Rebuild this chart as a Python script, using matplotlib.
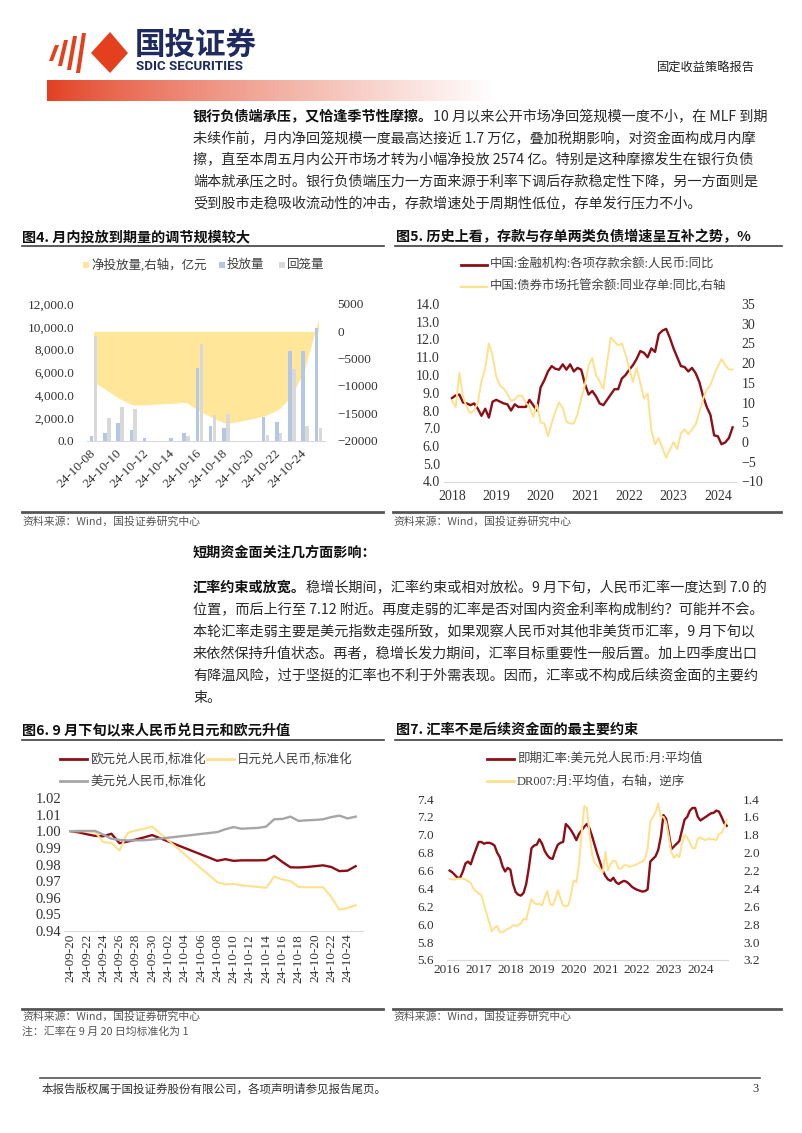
import numpy as np
import pandas as pd
import matplotlib
matplotlib.use("Agg")
import matplotlib.pyplot as plt
import matplotlib.dates as mdates
from matplotlib.lines import Line2D
from matplotlib.patches import Polygon, Rectangle

CJK = ["Noto Sans CJK SC", "DejaVu Sans"]
SERIF = ["Liberation Serif", "Noto Sans CJK SC", "DejaVu Sans"]
plt.rcParams["font.family"] = SERIF

RED = "#8B0F16"
YEL = "#FFE08C"
GRAY = "#A6A6A6"
BLUE = "#B4C7E7"
LGRAY = "#D9D9D9"
AREA = "#FFE699"

# ---- data: chart 4 (OMO, 100m yuan)
dates4 = ["24-10-08", "24-10-09", "24-10-10", "24-10-11", "24-10-12", "24-10-13",
          "24-10-14", "24-10-15", "24-10-16", "24-10-17", "24-10-18", "24-10-19",
          "24-10-20", "24-10-21", "24-10-22", "24-10-23", "24-10-24", "24-10-25"]
inject4 = [415, 620, 1510, 950, 200, 0, 200, 680, 6370, 1270, 1070, 0, 0, 2070, 1600, 7910, 7910, 9870]
withdraw4 = [9190, 1990, 2930, 2760, 0, 0, 0, 415, 8500, 2220, 2370, 0, 0, 440, 680, 6280, 1270, 1100]
net4 = [-9250, -10800, -12400, -13500, -13450, -13300, -13200, -13000, -14600, -15850,
        -16900, -16500, -16000, -15400, -14300, -11800, -6700, 2300]

# ---- data: chart 5 (monthly from 2018-01)
deposit5 = [8.70, 8.85, 8.90, 8.45, 8.40, 8.30, 8.40, 8.10, 7.70, 8.10,
            7.60, 8.50, 8.60, 8.50, 8.40, 8.35, 8.00, 8.35, 8.20, 8.20,
            8.20, 8.60, 8.30, 8.00, 9.30, 9.70, 10.20, 10.50, 10.35, 10.30,
            10.60, 10.30, 10.60, 10.20, 10.40, 10.30, 9.50, 8.90, 9.10, 8.80,
            8.40, 8.30, 8.60, 8.90, 9.20, 9.20, 9.80, 10.00, 10.30, 10.55,
            10.90, 11.35, 11.25, 11.00, 11.50, 11.30, 12.30, 12.50, 12.60, 12.10,
            11.50, 11.00, 10.50, 10.45, 10.20, 10.40, 10.10, 9.60, 8.80, 8.20,
            7.75, 6.60, 6.55, 6.10, 6.20, 6.45, 7.05]
ncd5 = [10.5, 8.8, 17.5, 11.5, 8.8, 7.3, 8.1, 10.0, 15.5, 18.6,
        25.0, 21.8, 16.6, 14.3, 13.6, 12.2, 10.4, 10.8, 11.8, 11.7,
        9.9, 9.0, 6.4, 9.5, 5.0, 4.7, 1.5, 4.8, 7.7, 10.1,
        8.6, 5.2, 4.7, 4.7, 7.0, 11.0, 14.5, 19.5, 21.3, 17.0,
        15.4, 13.5, 20.0, 26.5, 25.5, 24.5, 25.0, 22.3, 18.7, 15.3,
        18.8, 15.0, 11.0, 12.3, 3.0, -0.6, 1.0, -1.5, -4.0, -1.9,
        0.0, -1.8, 2.2, 3.2, 2.0, 3.2, 4.5, 7.5, 11.0, 13.2,
        14.5, 17.0, 19.2, 21.0, 19.5, 18.4, 18.4]

# ---- data: chart 6 (normalised FX)
dates6 = ["09-20", "09-21", "09-22", "09-23", "09-24", "09-25", "09-26", "09-27", "09-28", "09-29", "09-30",
          "10-08", "10-09", "10-10", "10-11", "10-12", "10-13", "10-14", "10-15", "10-16", "10-17",
          "10-18", "10-19", "10-20", "10-21", "10-22", "10-23", "10-24", "10-25"]
eur6 = [1.0000, 0.9993, 0.9982, 0.9972, 0.9970, 0.9985, 0.9928, 0.9938, 0.9950, 0.9963, 0.9977,
        0.9822, 0.9832, 0.9822, 0.9825, 0.9825, 0.9825, 0.9826, 0.9852, 0.9815, 0.9783,
        0.9782, 0.9785, 0.9790, 0.9795, 0.9785, 0.9760, 0.9763, 0.9790]
jpy6 = [1.0000, 1.0000, 1.0000, 0.9995, 0.9935, 0.9930, 0.9885, 0.9990, 1.0005, 1.0015, 1.0028,
        0.9694, 0.9680, 0.9684, 0.9675, 0.9670, 0.9665, 0.9660, 0.9728, 0.9710, 0.9700,
        0.9665, 0.9663, 0.9663, 0.9663, 0.9605, 0.9528, 0.9538, 0.9555]
usd6 = [1.0000, 1.0002, 1.0002, 1.0002, 0.9980, 0.9955, 0.9948, 0.9945, 0.9945, 0.9946, 0.9950,
        0.9995, 1.0012, 1.0025, 1.0015, 1.0018, 1.0020, 1.0028, 1.0072, 1.0074, 1.0088,
        1.0062, 1.0066, 1.0068, 1.0072, 1.0085, 1.0094, 1.0077, 1.0088]

# ---- data: chart 7 (monthly from 2016-02)
usdcny7 = [6.60, 6.58, 6.55, 6.52, 6.52, 6.59, 6.68, 6.70, 6.67, 6.76,
           6.84, 6.92, 6.92, 6.90, 6.91, 6.91, 6.90, 6.88, 6.80, 6.75,
           6.65, 6.59, 6.63, 6.61, 6.45, 6.36, 6.33, 6.32, 6.35, 6.45,
           6.63, 6.85, 6.88, 6.89, 6.95, 6.90, 6.82, 6.77, 6.74, 6.73,
           6.82, 6.89, 6.91, 6.92, 7.12, 7.09, 7.05, 7.00, 6.94, 7.01,
           7.05, 7.09, 7.12, 7.07, 6.98, 6.88, 6.78, 6.69, 6.60, 6.54,
           6.50, 6.485, 6.52, 6.47, 6.45, 6.47, 6.485, 6.475, 6.45, 6.42,
           6.40, 6.385, 6.375, 6.365, 6.37, 6.39, 6.70, 6.73, 6.76, 6.83,
           6.98, 7.22, 7.18, 7.02, 6.84, 6.87, 6.90, 6.93, 7.05, 7.17,
           7.20, 7.27, 7.30, 7.30, 7.20, 7.16, 7.18, 7.20, 7.22, 7.24,
           7.245, 7.27, 7.26, 7.20, 7.13, 7.10]
dr007_7 = [2.29, 2.30, 2.30, 2.29, 2.29, 2.29, 2.30, 2.32, 2.34, 2.40,
           2.43, 2.46, 2.47, 2.58, 2.68, 2.78, 2.88, 2.84, 2.82, 2.89,
           2.89, 2.87, 2.85, 2.84, 2.81, 2.82, 2.81, 2.79, 2.74, 2.75,
           2.63, 2.52, 2.56, 2.58, 2.57, 2.59, 2.50, 2.43, 2.57, 2.59,
           2.52, 2.42, 2.51, 2.59, 2.60, 2.59, 2.46, 2.31, 2.33, 2.13,
           1.78, 1.48, 1.50, 1.80, 2.03, 2.12, 2.15, 2.18, 2.22, 1.99,
           2.20, 2.12, 2.09, 2.10, 2.18, 2.18, 2.14, 2.14, 2.16, 2.15,
           2.14, 2.13, 2.11, 2.10, 2.07, 1.95, 1.65, 1.60, 1.55, 1.45,
           1.60, 1.60, 1.66, 1.82, 2.00, 2.06, 2.02, 2.05, 1.90, 1.80,
           1.83, 1.89, 1.95, 1.95, 1.84, 1.83, 1.85, 1.86, 1.84, 1.85,
           1.85, 1.86, 1.79, 1.78, 1.72, 1.63]

para1 = [("银行负债端承压，又恰逢季节性摩擦。", "10 月以来公开市场净回笼规模一度不小，在 MLF 到期"),
         ("", "未续作前，月内净回笼规模一度最高达接近 1.7 万亿，叠加税期影响，对资金面构成月内摩"),
         ("", "擦，直至本周五月内公开市场才转为小幅净投放 2574 亿。特别是这种摩擦发生在银行负债"),
         ("", "端本就承压之时。银行负债端压力一方面来源于利率下调后存款稳定性下降，另一方面则是"),
         ("", "受到股市走稳吸收流动性的冲击，存款增速处于周期性低位，存单发行压力不小。")]
para2 = [("汇率约束或放宽。", "稳增长期间，汇率约束或相对放松。9 月下旬，人民币汇率一度达到 7.0 的"),
         ("", "位置，而后上行至 7.12 附近。再度走弱的汇率是否对国内资金利率构成制约？可能并不会。"),
         ("", "本轮汇率走弱主要是美元指数走强所致，如果观察人民币对其他非美货币汇率，9 月下旬以"),
         ("", "来依然保持升值状态。再者，稳增长发力期间，汇率目标重要性一般后置。加上四季度出口"),
         ("", "有降温风险，过于坚挺的汇率也不利于外需表现。因而，汇率或不构成后续资金面的主要约"),
         ("", "束。")]

W, H = 802, 1133
fig = plt.figure(figsize=(W / 100, H / 100), dpi=100)
renderer = fig.canvas.get_renderer()


def fx(x):
    return x / W


def fy(y):
    return 1 - y / H


def text(x, y, s, size=10, **kw):
    kw.setdefault("va", "center")
    return fig.text(fx(x), fy(y), s, fontsize=size, **kw)


def rule(x0, x1, y, lw=1.0, color="#404040"):
    fig.add_artist(Line2D([fx(x0), fx(x1)], [fy(y), fy(y)], lw=lw, color=color))


def panel(l, t, r, b):
    return fig.add_axes([fx(l), fy(b), (r - l) / W, (b - t) / H])


def clean(ax, bottom=True):
    for s in ["top", "left", "right", "bottom"]:
        ax.spines[s].set_visible(False)
    if bottom:
        ax.spines["bottom"].set_visible(True)
        ax.spines["bottom"].set_color(LGRAY)
    ax.tick_params(length=0, colors="#333333")


def para_line(x, y, bold, rest, size=10.2):
    if bold:
        t = text(x, y, bold, size, family=CJK, fontweight="bold", color="#111111")
        x = t.get_window_extent(renderer).x1
    text(x, y, rest, size, family=CJK, color="#2a2a2a")


# ---- header
for k, (xc, hh) in enumerate([(54, 8), (63, 13), (72, 17), (81, 20)]):
    fig.add_artist(Polygon([(fx(xc - 5), fy(53 + hh)), (fx(xc - 1), fy(53 + hh)),
                            (fx(xc + 5), fy(53 - hh)), (fx(xc + 1), fy(53 - hh))],
                           closed=True, color="#E4401E", lw=0))
fig.add_artist(Polygon([(fx(110), fy(32)), (fx(128), fy(53)), (fx(110), fy(73)), (fx(91), fy(53))],
                       closed=True, color="#E4401E", lw=0))
text(135, 45, "国投证券", 22, family=CJK, fontweight="bold", color="#1F2A5E")
text(136, 67, "SDIC SECURITIES", 9.6, family=["Roboto", "DejaVu Sans"], fontweight="bold", color="#1F2A5E")
text(657, 68, "固定收益策略报告", 8.8, family=CJK, color="#222222")

gax = fig.add_axes([fx(47), fy(101), (495 - 47) / W, 21 / H])
t = np.linspace(0, 1, 400) ** 0.8
red = np.array([0.89, 0.24, 0.12])
grad = red[None, :] * (1 - t[:, None]) + t[:, None]
gax.imshow(grad[None, :, :], aspect="auto", extent=(0, 1, 0, 1))
gax.axis("off")

# ---- paragraph 1
for i, (b, r) in enumerate(para1):
    para_line(193, 117 + 21.8 * i, b, r)

# ---- chart titles
for x, y, s in [(22, 237, "图4. 月内投放到期量的调节规模较大"),
                (396, 237, "图5. 历史上看，存款与存单两类负债增速呈互补之势，%"),
                (22, 730, "图6. 9 月下旬以来人民币兑日元和欧元升值"),
                (396, 730, "图7. 汇率不是后续资金面的最主要约束")]:
    text(x, y, s, 10.2, family=CJK, fontweight="bold", color="#111111")
rule(22, 384, 246, 1.2)
rule(395, 782, 246, 1.2)
rule(22, 384, 740, 1.2)
rule(395, 782, 740, 1.2)

# ---- chart 4
ax4 = panel(87, 304, 325, 440.5)
x4 = np.arange(len(dates4))
ax4.fill_between(x4, 0, net4, color=AREA, lw=0)
ax4.set_ylim(-20000, 5000)
ax4.set_xlim(-0.5, len(dates4) - 0.5)
ax4b = ax4.twinx()
ax4b.bar(x4 - 0.15, inject4, width=0.27, color=BLUE)
ax4b.bar(x4 + 0.15, withdraw4, width=0.27, color=LGRAY)
ax4b.set_ylim(0, 12000)
ax4.yaxis.tick_right()
ax4b.yaxis.tick_left()
ax4.set_yticks(range(-20000, 5001, 5000))
ax4b.set_yticks(range(0, 12001, 2000))
ax4b.set_yticklabels([f"{v:,.1f}" for v in range(0, 12001, 2000)])
ax4.set_xticks(x4[::2])
ax4.set_xticklabels(dates4[::2], rotation=45, ha="right", va="center", rotation_mode="anchor")
clean(ax4)
clean(ax4b, bottom=False)
ax4.tick_params(axis="y", labelsize=9.5, pad=9)
ax4b.tick_params(axis="y", labelsize=9.5, pad=9)
ax4.tick_params(axis="x", labelsize=9.5, pad=8)

for xs, col, lab in [(86, AREA, "净投放量,右轴，亿元"), (222, BLUE, "投放量"), (282, LGRAY, "回笼量")]:
    fig.add_artist(Rectangle((fx(xs - 3), fy(268)), 6 / W, 6 / H, color=col, lw=0))
    text(xs + 5, 265, lab, 9, color="#404040")

# ---- chart 5
ax5 = panel(444, 304, 736, 481.5)
x5 = 2018 + np.arange(len(deposit5)) / 12
ax5.plot(x5, deposit5, color=RED, lw=1.7)
ax5.set_ylim(4, 14)
ax5.set_yticks(np.arange(4, 14.01, 1))
ax5.set_yticklabels([f"{v:.1f}" for v in np.arange(4, 14.01, 1)])
ax5.set_xlim(2017.82, 2024.41)
ax5.set_xticks(range(2018, 2025))
ax5b = ax5.twinx()
ax5b.plot(x5, ncd5, color=YEL, lw=1.4)
ax5b.set_ylim(-10, 35)
ax5b.set_yticks(range(-10, 36, 5))
clean(ax5)
clean(ax5b, bottom=False)
ax5.tick_params(axis="y", labelsize=10, pad=3)
ax5b.tick_params(axis="y", labelsize=10, pad=4)
ax5.tick_params(axis="x", labelsize=10, pad=6)

rule(461, 487, 265, 2, RED)
text(490, 265, "中国:金融机构:各项存款余额:人民币:同比", 8.9, color="#404040")
rule(461, 487, 286.5, 1.6, YEL)
text(490, 286.5, "中国:债券市场托管余额:同业存单:同比,右轴", 8.9, color="#404040")

# ---- sources row 1
rule(22, 383, 512, 2, "#555555")
rule(393, 781, 512, 2, "#555555")
text(22, 522, "资料来源：Wind，国投证券研究中心", 7.8, family=CJK, color="#555555", style="italic")
text(393, 522, "资料来源：Wind，国投证券研究中心", 7.8, family=CJK, color="#555555", style="italic")

# ---- paragraph 2
text(193, 553, "短期资金面关注几方面影响：", 10.2, family=CJK, fontweight="bold", color="#111111")
for i, (b, r) in enumerate(para2):
    para_line(193, 588 + 22 * i, b, r)

# ---- chart 6
ax6 = panel(64, 798, 363, 931)
d6 = pd.to_datetime(["2024-" + s for s in dates6])
ax6.plot(d6, eur6, color=RED, lw=1.7)
ax6.plot(d6, jpy6, color=YEL, lw=1.5)
ax6.plot(d6, usd6, color=GRAY, lw=1.7)
ax6.set_ylim(0.94, 1.02)
ax6.set_yticks(np.arange(0.94, 1.0201, 0.01))
ax6.set_yticklabels([f"{v:.2f}" for v in np.arange(0.94, 1.0201, 0.01)])
ticks6 = pd.date_range("2024-09-20", "2024-10-24", freq="2D")
ax6.set_xlim(mdates.date2num(ticks6[0]) - 0.82, mdates.date2num(ticks6[-1]) + 1.9)
ax6.set_xticks(ticks6)
ax6.set_xticklabels(ticks6.strftime("%y-%m-%d"), rotation=90)
clean(ax6)
ax6.tick_params(axis="y", labelsize=10.5, pad=2)
ax6.tick_params(axis="x", labelsize=9.5, pad=2)

rule(60, 87, 759, 2, RED)
text(90, 759, "欧元兑人民币,标准化", 9, color="#404040")
rule(207, 234, 759, 2, YEL)
text(237, 759, "日元兑人民币,标准化", 9, color="#404040")
rule(60, 87, 781, 2, GRAY)
text(90, 781, "美元兑人民币,标准化", 9, color="#404040")

# ---- chart 7
ax7 = panel(447, 799, 728, 960)
x7 = 2016 + np.arange(1, len(usdcny7) + 1) / 12
ax7.plot(x7, usdcny7, color=RED, lw=1.7)
ax7.set_ylim(5.6, 7.4)
ax7.set_yticks(np.arange(5.6, 7.401, 0.2))
ax7.set_yticklabels([f"{v:.1f}" for v in np.arange(5.6, 7.401, 0.2)])
ax7.set_xlim(2016.03, 2024.87)
ax7.set_xticks(range(2016, 2025))
ax7b = ax7.twinx()
ax7b.plot(x7, dr007_7, color=YEL, lw=1.4)
ax7b.set_ylim(3.2, 1.4)
ax7b.set_yticks(np.arange(1.4, 3.201, 0.2))
ax7b.set_yticklabels([f"{v:.1f}" for v in np.arange(1.4, 3.201, 0.2)])
clean(ax7)
clean(ax7b, bottom=False)
ax7.tick_params(axis="y", labelsize=9.5, pad=9.5)
ax7b.tick_params(axis="y", labelsize=9.5, pad=11)
ax7.tick_params(axis="x", labelsize=9.5, pad=3)

rule(487, 514, 759, 2, RED)
text(517, 759, "即期汇率:美元兑人民币:月:平均值", 9, color="#404040")
rule(487, 514, 781, 2, YEL)
text(517, 781, "DR007:月:平均值，右轴，逆序", 9, color="#404040")

# ---- sources row 2
rule(22, 383, 1009, 2, "#555555")
rule(393, 781, 1009, 2, "#555555")
text(22, 1017, "资料来源：Wind，国投证券研究中心", 7.8, family=CJK, color="#555555", style="italic")
text(22, 1032, "注：汇率在 9 月 20 日均标准化为 1", 7.8, family=CJK, color="#555555", style="italic")
text(393, 1017, "资料来源：Wind，国投证券研究中心", 7.8, family=CJK, color="#555555", style="italic")

# ---- footer
rule(40, 760, 1078, 1.2, "#555555")
text(42, 1089, "本报告版权属于国投证券股份有限公司，各项声明请参见报告尾页。", 8.3, family=CJK, color="#333333")
text(752, 1089, "3", 9, color="#333333")

fig.savefig("out.png", dpi=100)
